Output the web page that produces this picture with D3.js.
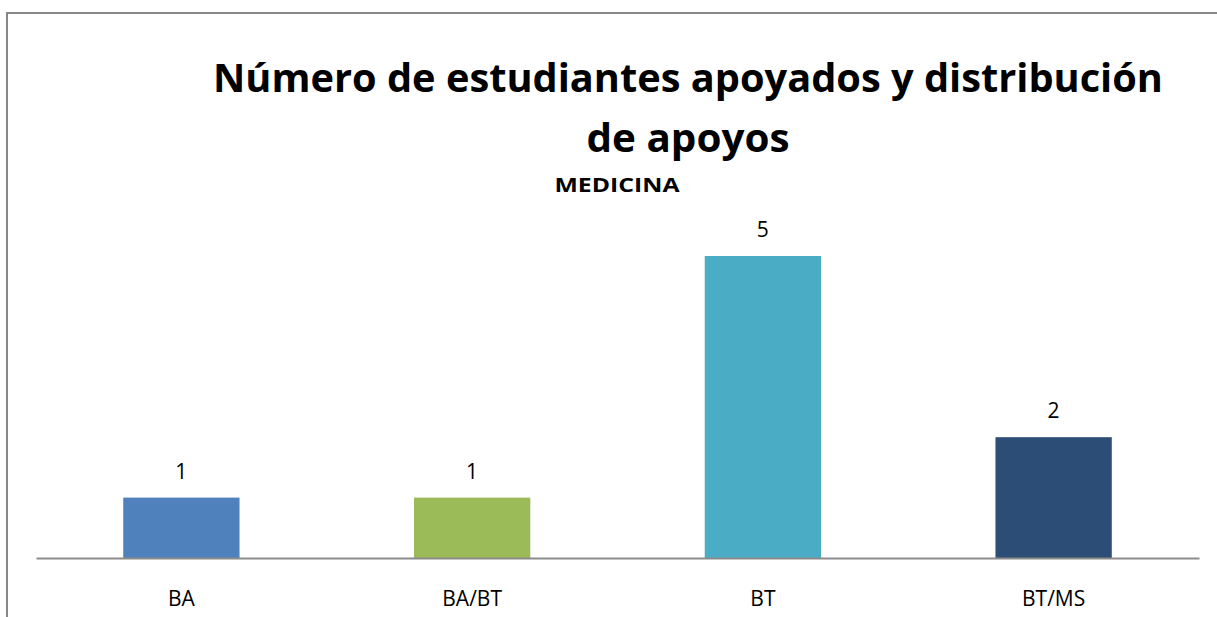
<!DOCTYPE html>
<html>
<head>
<meta charset="utf-8">
<script src="https://cdn.jsdelivr.net/npm/d3@7"></script>
<style>
  body { margin: 0; background: #fff; }
  svg { display: block; font-family: "Open Sans", "Liberation Sans", sans-serif; }
</style>
</head>
<body>
<svg id="chart"></svg>
<script>
const categories = ["BA", "BA/BT", "BT", "BT/MS"];
const values = [1, 1, 5, 2];
const barColors = ["#4F81BD", "#9BBB59", "#4BACC6", "#2C4D75"];
const titleLines = ["Número de estudiantes apoyados y distribución", "de apoyos"];
const subtitle = "MEDICINA";

const width = 1217, height = 617;
const svg = d3.select("#chart").attr("width", width).attr("height", height);

// chart frame (right and bottom edges fall outside the picture)
svg.append("path")
  .attr("d", `M7,${height} L7,13 L${width},13`)
  .attr("fill", "none")
  .attr("stroke", "#878787")
  .attr("stroke-width", 2);

// title
svg.append("text")
  .attr("x", 688).attr("y", 92)
  .attr("text-anchor", "middle")
  .attr("font-size", 39).attr("font-weight", "bold")
  .attr("textLength", 950).attr("lengthAdjust", "spacingAndGlyphs")
  .text(titleLines[0]);
svg.append("text")
  .attr("x", 688).attr("y", 152)
  .attr("text-anchor", "middle")
  .attr("font-size", 39).attr("font-weight", "bold")
  .attr("textLength", 203).attr("lengthAdjust", "spacingAndGlyphs")
  .text(titleLines[1]);
svg.append("text")
  .attr("x", 617).attr("y", 192)
  .attr("text-anchor", "middle")
  .attr("font-size", 19).attr("font-weight", "bold")
  .attr("textLength", 125).attr("lengthAdjust", "spacingAndGlyphs")
  .text(subtitle);

const x = d3.scaleBand().domain(categories).range([36, 1199]).paddingInner(0.6).paddingOuter(0.3);
const y = d3.scaleLinear().domain([0, 6]).range([558, 195.6]);

svg.selectAll("rect.bar")
  .data(values)
  .join("rect")
  .attr("class", "bar")
  .attr("x", (d, i) => x(categories[i]))
  .attr("y", d => y(d))
  .attr("width", x.bandwidth())
  .attr("height", d => y(0) - y(d))
  .attr("fill", (d, i) => barColors[i]);

svg.selectAll("text.val")
  .data(values)
  .join("text")
  .attr("class", "val")
  .attr("x", (d, i) => x(categories[i]) + x.bandwidth() / 2)
  .attr("y", d => y(d) - 19)
  .attr("text-anchor", "middle")
  .attr("font-size", 21)
  .attr("fill", "#000")
  .text(d => d);

const axis = svg.append("g")
  .attr("transform", `translate(0,${y(0)})`)
  .call(d3.axisBottom(x).tickSize(0).tickPadding(33));
axis.select(".domain").attr("stroke", "#8c8c8c").attr("stroke-width", 2);
axis.selectAll("text")
  .attr("font-size", 21)
  .attr("font-family", "\"Open Sans\", sans-serif")
  .attr("fill", "#000");
</script>
</body>
</html>
